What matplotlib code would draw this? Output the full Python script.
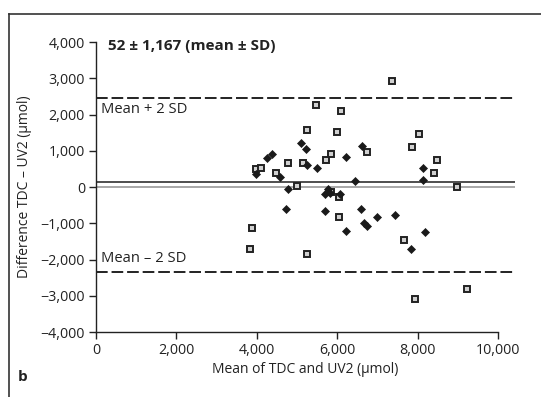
import matplotlib.pyplot as plt
from matplotlib.lines import Line2D
from matplotlib.ticker import FuncFormatter

plt.rcParams['font.family'] = ['Open Sans', 'DejaVu Sans']

# open squares
sq_x = [3825, 3892, 3992, 4108, 4475, 4775, 4992, 5158, 5250, 5258, 5467, 5717, 5858, 5850,
        6000, 6042, 6042, 6083, 6742, 7358, 7658, 7867, 7933, 8033, 8400, 8492, 8983, 9233]
sq_y = [-1719, -1140, 488, 516, 395, 662, 28, 671, 1573, -1849, 2254, 754, 910, -130,
        1526, -284, -828, 2105, 966, 2933, -1462, 1095, -3090, 1462, 377, 736, -9, -2814]

# filled diamonds
dm_x = [3992, 4250, 4367, 4567, 4717, 4767, 5100, 5225, 5242, 5492, 5692, 5767, 5700, 5833,
        6058, 6217, 6217, 6433, 6583, 6617, 6658, 6733, 6983, 7442, 7842, 8142, 8142, 8192]
dm_y = [359, 792, 910, 285, -616, -64, 1222, 1040, 607, 533, -662, -64, -193, -174,
        -193, 819, -1222, 165, -607, 1131, -985, -1076, -836, -781, -1702, 515, 184, -1241]

mean_line = 140
upper_line = 2460
lower_line = -2340

fig = plt.figure(figsize=(5.41, 3.97), dpi=100)
ax = fig.add_axes([0.1775, 0.1637, 0.952 - 0.1775, 0.894 - 0.1637])

x_end = 10425
ax.plot([0, x_end], [0, 0], color='#a0a0a0', lw=1.3, zorder=1)
ax.plot([0, x_end], [mean_line, mean_line], color='#404040', lw=1.3, zorder=1)
ax.plot([0, x_end], [upper_line, upper_line], color='#222222', lw=1.4, dashes=(6, 2), zorder=1)
ax.plot([0, x_end], [lower_line, lower_line], color='#222222', lw=1.4, dashes=(6, 2), zorder=1)

ax.plot(sq_x, sq_y, 's', ms=4.5, mfc='#d0d0d0', mec='#222222', mew=1.4, ls='none', zorder=3)
ax.plot(dm_x, dm_y, 'D', ms=4.3, mfc='#1a1a1a', mec='#1a1a1a', mew=0.5, ls='none', zorder=3)

ax.set_xlim(0, x_end)
ax.set_ylim(-4000, 4000)
ax.set_xticks(range(0, 10001, 2000))
ax.set_yticks(range(-4000, 4001, 1000))
fmt = FuncFormatter(lambda v, p: ('\u2212' if v < 0 else '') + f'{abs(int(v)):,}')
ax.xaxis.set_major_formatter(fmt)
ax.yaxis.set_major_formatter(fmt)

for s in ['top', 'right']:
    ax.spines[s].set_visible(False)
ax.spines['bottom'].set_bounds(0, 10000)
ax.spines['left'].set_bounds(-4000, 4000)
for s in ['left', 'bottom']:
    ax.spines[s].set_color('#222222')
    ax.spines[s].set_linewidth(1.0)
ax.tick_params(direction='out', length=5, width=1.0, color='#222222', labelsize=10.3,
               labelcolor='#222222', pad=3)

ax.set_xlabel('Mean of TDC and UV2 (\u03bcmol)', fontsize=10, color='#222222', labelpad=3)
ax.set_ylabel('Difference TDC \u2013 UV2 (\u03bcmol)', fontsize=10, color='#222222', labelpad=6)

ax.text(300, 3880, '52 \u00b1 1,167 (mean \u00b1 SD)', fontsize=11, fontweight='bold',
        color='#222222', va='center', ha='left')
ax.text(120, 2130, 'Mean + 2 SD', fontsize=10.6, color='#222222', va='center', ha='left')
ax.text(120, -1980, 'Mean \u2013 2 SD', fontsize=10.6, color='#222222', va='center', ha='left')

fig.text(18 / 541, 1 - 377 / 397, 'b', fontsize=11, fontweight='bold', color='#222222',
         ha='left', va='center')

# panel frame
fig.add_artist(Line2D([8.5 / 541, 8.5 / 541], [0, 1 - 13.5 / 397], color='#333333', lw=1.2))
fig.add_artist(Line2D([8.5 / 541, 1], [1 - 13.5 / 397, 1 - 13.5 / 397], color='#333333', lw=1.2))

fig.savefig('out.png', dpi=100)
